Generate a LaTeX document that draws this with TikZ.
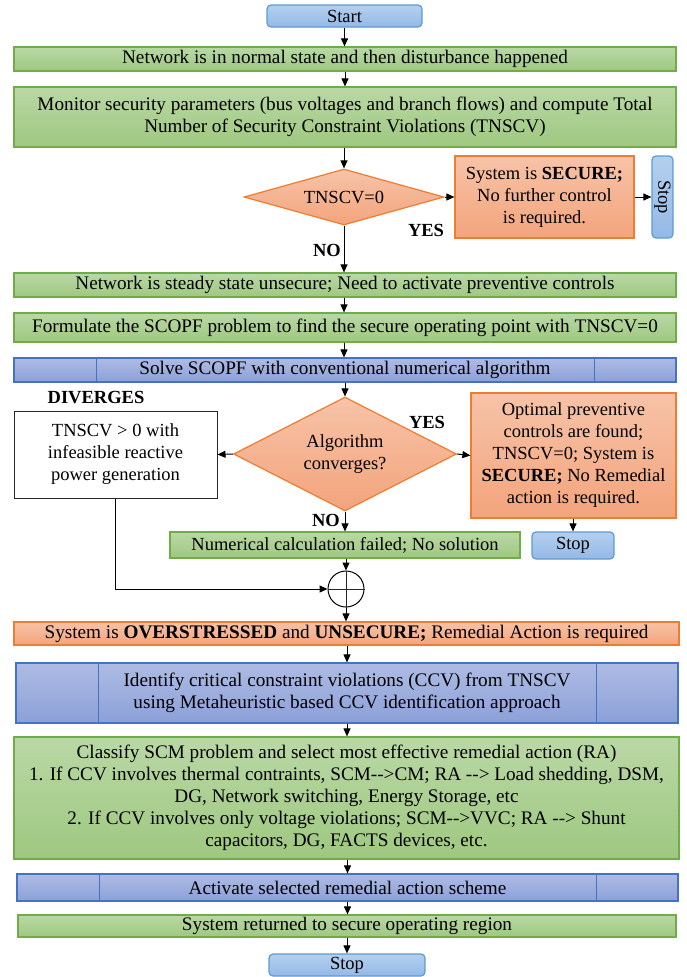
\documentclass[tikz,border=0pt]{standalone}
\usepackage{fontspec}
\setmainfont{Liberation Serif}
\usetikzlibrary{arrows.meta,shapes.geometric}
\definecolor{gtop}{RGB}{186,216,166}
\definecolor{gbot}{RGB}{158,200,128}
\definecolor{gline}{RGB}{112,173,71}
\definecolor{otop}{RGB}{247,195,168}
\definecolor{obot}{RGB}{243,164,124}
\definecolor{oline}{RGB}{237,125,49}
\definecolor{btop}{RGB}{174,188,228}
\definecolor{bbot}{RGB}{140,160,216}
\definecolor{bline}{RGB}{68,114,196}
\definecolor{sbtop}{RGB}{180,208,238}
\definecolor{sbbot}{RGB}{148,184,230}
\definecolor{sbline}{RGB}{91,155,213}
\begin{document}
\begin{tikzpicture}[x=1pt,y=-1pt,
  txt/.style={font=\fontsize{18.5}{22}\selectfont, align=center, inner sep=0pt},
  wide/.style={font=\fontsize{19.2}{22}\selectfont},
  lbl/.style={font=\fontsize{18.5}{22}\selectfont\bfseries, inner sep=0pt},
  greenbox/.style={txt, rectangle, draw=gline, line width=1.2pt, top color=gtop, bottom color=gbot},
  orangebox/.style={txt, rectangle, draw=oline, line width=1.2pt, top color=otop, bottom color=obot},
  bluebox/.style={txt, rectangle, draw=bline, line width=1.2pt, top color=btop, bottom color=bbot},
  termbox/.style={txt, rectangle, rounded corners=4pt, draw=sbline, line width=1.2pt, top color=sbtop, bottom color=sbbot},
  whitebox/.style={txt, rectangle, draw=black!85, line width=1pt, fill=white},
  decision/.style={txt, diamond, draw=oline, line width=1.2pt, top color=otop, bottom color=obot},
  inner/.style={draw=bline, line width=1.2pt},
  arr/.style={draw=black, line width=1pt, -{Triangle[length=8pt,width=7pt]}},
  conn/.style={draw=black!85, line width=1pt}
]
\useasboundingbox (0,0) rectangle (686,977);

\node[termbox, minimum width=155pt, minimum height=22pt] (start) at (344.5,16) {Start};
\node[greenbox, wide, minimum width=662pt, minimum height=24pt] (n1) at (345,59) {Network is in normal state and then disturbance happened};
\node[greenbox, wide, minimum width=662pt, minimum height=60pt] (n2) at (345,117) {Monitor security parameters (bus voltages and branch flows) and compute Total\\Number of Security Constraint Violations (TNSCV)};
\node[decision, aspect=3.5, minimum width=200pt, minimum height=56pt] (d1) at (344,197) {TNSCV=0};
\node[orangebox, minimum width=179pt, minimum height=82pt] (sec) at (544.5,197) {System is \textbf{SECURE;}\\No further control\\is required.};
\node[termbox, rotate=-90, minimum width=82pt, minimum height=21pt] (stop1) at (662.5,197) {Stop};
\node[lbl] (yes1) at (426,230) {YES};
\node[lbl] (no1) at (327,250) {NO};

\node[greenbox, wide, minimum width=662pt, minimum height=24pt] (n3) at (345,285) {Network is steady state unsecure; Need to activate preventive controls};
\node[greenbox, wide, minimum width=662pt, minimum height=29pt] (n4) at (345,327.5) {Formulate the SCOPF problem to find the secure operating point with TNSCV=0};
\node[bluebox, wide, minimum width=662pt, minimum height=24pt] (n5) at (345,370) {Solve SCOPF with conventional numerical algorithm};
\draw[inner] ([xshift=83pt]n5.north west) -- ([xshift=83pt]n5.south west);
\draw[inner] ([xshift=-82pt]n5.north east) -- ([xshift=-82pt]n5.south east);

\node[decision, aspect=2, minimum width=223pt, minimum height=114pt] (d2) at (345,454) {Algorithm\\converges?};
\node[whitebox, minimum width=203pt, minimum height=87pt] (div) at (115.5,454.5) {TNSCV > 0 with\\infeasible reactive\\power generation};
\node[orangebox, minimum width=205pt, minimum height=125pt] (opt) at (573.5,455.5) {Optimal preventive\\controls are found;\\TNSCV=0; System is\\\textbf{SECURE;} No Remedial\\action is required.};
\node[lbl] (divl) at (96,398) {DIVERGES};
\node[lbl] (yes2) at (427,422) {YES};
\node[lbl] (no2) at (326,520) {NO};
\node[greenbox, minimum width=350pt, minimum height=26pt] (fail) at (345,545) {Numerical calculation failed; No solution};
\node[termbox, minimum width=82pt, minimum height=27pt] (stop2) at (573,545.5) {Stop};

\node[circle, draw=black, line width=1pt, minimum size=36pt, inner sep=0pt] (sum) at (346,589) {};
\draw[conn] (sum.north) -- (sum.south);
\draw[conn] (sum.west) -- (sum.east);

\node[orangebox, wide, minimum width=665pt, minimum height=23pt] (over) at (346.5,633.5) {System is \textbf{OVERSTRESSED} and \textbf{UNSECURE;} Remedial Action is required};
\node[bluebox, wide, minimum width=662pt, minimum height=60pt] (ident) at (347,693) {Identify critical constraint violations (CCV) from TNSCV\\using Metaheuristic based CCV identification approach};
\draw[inner] ([xshift=83pt]ident.north west) -- ([xshift=83pt]ident.south west);
\draw[inner] ([xshift=-82pt]ident.north east) -- ([xshift=-82pt]ident.south east);
\node[greenbox, wide, minimum width=665pt, minimum height=122pt] (cls) at (346.5,798) {Classify SCM problem and select most effective remedial action (RA)\\1. If CCV involves thermal contraints, SCM-{}->CM; RA -{}-> Load shedding, DSM,\\DG, Network switching, Energy Storage, etc\\2. If CCV involves only voltage violations; SCM-{}->VVC; RA -{}-> Shunt\\capacitors, DG, FACTS devices, etc.};
\node[bluebox, wide, minimum width=661pt, minimum height=27pt] (act) at (347.5,887.5) {Activate selected remedial action scheme};
\draw[inner] ([xshift=83pt]act.north west) -- ([xshift=83pt]act.south west);
\draw[inner] ([xshift=-82pt]act.north east) -- ([xshift=-82pt]act.south east);
\node[greenbox, wide, minimum width=658pt, minimum height=22pt] (ret) at (347,926) {System returned to secure operating region};
\node[termbox, minimum width=156pt, minimum height=22pt] (stop3) at (347,965) {Stop};

\draw[arr] (start) -- (start |- n1.north);
\draw[arr] (n1) -- (n1 |- n2.north);
\draw[arr] (d1 |- n2.south) -- (d1.north);
\draw[arr] (d1) -- (d1 |- n3.north);
\draw[arr] (d1.east) -- (sec.west);
\draw[arr] (sec) -- (stop1);
\draw[arr] (d1 |- n3.south) -- (d1 |- n4.north);
\draw[arr] (d1 |- n4.south) -- (d1 |- n5.north);
\draw[arr] (d2 |- n5.south) -- (d2.north);
\draw[arr] (d2.west) -- (div.east);
\draw[arr] (d2.east) -- (opt.west);
\draw[arr] (d2.south) -- (d2 |- fail.north);
\draw[arr] (opt.south -| stop2) -- (stop2.north);
\draw[arr] (sum |- fail.south) -- (sum.north);
\draw[arr] (div.south) |- (sum.west);
\draw[arr] (sum.south) -- (sum |- over.north);
\draw[arr] (ident |- over.south) -- (ident.north);
\draw[arr] (ident.south) -- (ident |- cls.north);
\draw[arr] (act |- cls.south) -- (act.north);
\draw[arr] (act.south) -- (act |- ret.north);
\draw[arr] (ret.south) -- (stop3.north);
\end{tikzpicture}
\end{document}
